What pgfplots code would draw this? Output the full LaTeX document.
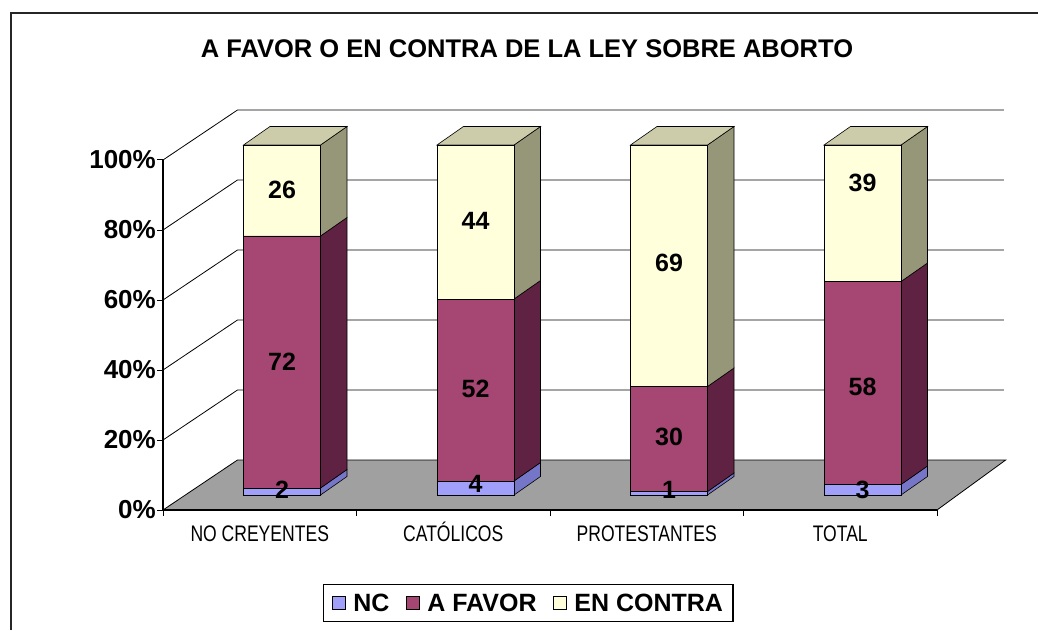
\documentclass[border=0pt]{standalone}
\usepackage{pgfplots}
\pgfplotsset{compat=1.18}
\usepackage{fontspec}
\setmainfont{Liberation Sans}
\newfontfamily\narrowfont[FakeStretch=0.78]{Liberation Sans}
\definecolor{ncF}{RGB}{160,160,250}
\definecolor{ncS}{RGB}{118,118,200}
\definecolor{afF}{RGB}{166,70,115}
\definecolor{afS}{RGB}{96,34,66}
\definecolor{ecF}{RGB}{255,255,220}
\definecolor{ecS}{RGB}{150,150,120}
\definecolor{ecT}{RGB}{204,204,170}
\definecolor{floorc}{RGB}{160,160,160}
\tikzset{vlab/.style={font=\bfseries\fontsize{25}{30}\selectfont}}
\pgfplotsset{base/.style={at={(163pt,120pt)}, anchor=south west, scale only axis,
  width=774pt, height=350pt, xmin=-0.615, xmax=3.385, ymin=-4.286, ymax=95.714, clip=false}}
\pgfplotstableread{
x nc af ec
0 2 72 26
1 4 52 44
2 1 30 69
3 3 58 39
}\datatab
\begin{document}
\begin{tikzpicture}
\path[use as bounding box] (0,0) rectangle (1038pt,630pt);
\draw[line width=2.5pt, black!85] (11pt,0pt) -- (11pt,617pt) -- (1038pt,617pt);
\node[font=\bfseries\fontsize{25.5}{30}\selectfont] at (527pt,581pt) {A FAVOR O EN CONTRA DE LA LEY SOBRE ABORTO};
% background: floor, gridlines, side and top faces
\begin{axis}[base, hide axis]
\addplot[fill=floorc, draw=black, line width=0.8pt] coordinates {(-0.615,-4.286) (-0.23,10) (3.74,10) (3.385,-4.286)} --cycle;
\addplot[black, line width=0.8pt] coordinates {(-0.615,15.714) (-0.23,30) (3.73,30)};
\addplot[black, line width=0.8pt] coordinates {(-0.615,35.714) (-0.23,50) (3.73,50)};
\addplot[black, line width=0.8pt] coordinates {(-0.615,55.714) (-0.23,70) (3.73,70)};
\addplot[black, line width=0.8pt] coordinates {(-0.615,75.714) (-0.23,90) (3.73,90)};
\addplot[black, line width=0.8pt] coordinates {(-0.615,95.714) (-0.23,110) (3.73,110)};
% bar 0
\addplot[fill=ncS, draw=black, line width=0.6pt] coordinates {(0.199,0) (0.336,5.29) (0.336,7.29) (0.199,2)} --cycle;
\addplot[fill=afS, draw=black, line width=0.6pt] coordinates {(0.199,2) (0.336,7.29) (0.336,79.29) (0.199,74)} --cycle;
\addplot[fill=ecS, draw=black, line width=0.6pt] coordinates {(0.199,74) (0.336,79.29) (0.336,105.29) (0.199,100)} --cycle;
\addplot[fill=ecT, draw=black, line width=0.6pt] coordinates {(-0.199,100) (0.199,100) (0.336,105.29) (-0.062,105.29)} --cycle;
% bar 1
\addplot[fill=ncS, draw=black, line width=0.6pt] coordinates {(1.199,0) (1.336,5.29) (1.336,9.29) (1.199,4)} --cycle;
\addplot[fill=afS, draw=black, line width=0.6pt] coordinates {(1.199,4) (1.336,9.29) (1.336,61.29) (1.199,56)} --cycle;
\addplot[fill=ecS, draw=black, line width=0.6pt] coordinates {(1.199,56) (1.336,61.29) (1.336,105.29) (1.199,100)} --cycle;
\addplot[fill=ecT, draw=black, line width=0.6pt] coordinates {(0.801,100) (1.199,100) (1.336,105.29) (0.938,105.29)} --cycle;
% bar 2
\addplot[fill=ncS, draw=black, line width=0.6pt] coordinates {(2.199,0) (2.336,5.29) (2.336,6.29) (2.199,1)} --cycle;
\addplot[fill=afS, draw=black, line width=0.6pt] coordinates {(2.199,1) (2.336,6.29) (2.336,36.29) (2.199,31)} --cycle;
\addplot[fill=ecS, draw=black, line width=0.6pt] coordinates {(2.199,31) (2.336,36.29) (2.336,105.29) (2.199,100)} --cycle;
\addplot[fill=ecT, draw=black, line width=0.6pt] coordinates {(1.801,100) (2.199,100) (2.336,105.29) (1.938,105.29)} --cycle;
% bar 3
\addplot[fill=ncS, draw=black, line width=0.6pt] coordinates {(3.199,0) (3.336,5.29) (3.336,8.29) (3.199,3)} --cycle;
\addplot[fill=afS, draw=black, line width=0.6pt] coordinates {(3.199,3) (3.336,8.29) (3.336,66.29) (3.199,61)} --cycle;
\addplot[fill=ecS, draw=black, line width=0.6pt] coordinates {(3.199,61) (3.336,66.29) (3.336,105.29) (3.199,100)} --cycle;
\addplot[fill=ecT, draw=black, line width=0.6pt] coordinates {(2.801,100) (3.199,100) (3.336,105.29) (2.938,105.29)} --cycle;
\end{axis}
% front faces, axes, legend
\begin{axis}[base, ybar stacked, bar width=0.398,
  axis x line=bottom, axis y line=left,
  axis line style={-, line width=1.2pt, black},
  tick style={black, line width=1pt}, tick align=outside, major tick length=6pt,
  ytick={-4.286,15.714,35.714,55.714,75.714,95.714},
  yticklabels={0\%,20\%,40\%,60\%,80\%,100\%},
  yticklabel style={font=\bfseries\fontsize{26}{30}\selectfont, inner sep=1pt},
  xtick={-0.615,0.385,1.385,2.385,3.385}, xticklabels={},
  extra x ticks={-0.115,0.885,1.885,2.885},
  extra x tick labels={NO CREYENTES,CATÓLICOS,PROTESTANTES,TOTAL},
  extra x tick style={major tick length=0pt, tick label style={font=\narrowfont\fontsize{22.5}{26}\selectfont, anchor=north, text height=17pt, text depth=2pt, yshift=-11pt}},
  legend style={at={(0.472,-0.266)}, anchor=center, draw=black, line width=1.2pt,
    font=\bfseries\fontsize{25}{28}\selectfont, legend columns=-1,
    inner xsep=8pt, inner ysep=7pt,
    /tikz/every odd column/.append style={column sep=6pt},
    /tikz/every even column/.append style={column sep=14pt}},
  legend image code/.code={\draw[#1,draw=black,line width=0.8pt] (0pt,-6pt) rectangle (13pt,7pt);},
]
\addplot[fill=ncF, draw=black, line width=0.6pt] table[x=x, y=nc] {\datatab};
\addplot[fill=afF, draw=black, line width=0.6pt] table[x=x, y=af] {\datatab};
\addplot[fill=ecF, draw=black, line width=0.6pt] table[x=x, y=ec] {\datatab};
\legend{NC, A FAVOR, EN CONTRA}
\end{axis}
% value labels on top
\begin{axis}[base, hide axis]
\node[vlab] at (axis cs:0,1.4) {2};
\node[vlab] at (axis cs:0,38) {72};
\node[vlab] at (axis cs:0,87.1) {26};
\node[vlab] at (axis cs:1,3.1) {4};
\node[vlab] at (axis cs:1,30.3) {52};
\node[vlab] at (axis cs:1,78.3) {44};
\node[vlab] at (axis cs:2,1.4) {1};
\node[vlab] at (axis cs:2,16.6) {30};
\node[vlab] at (axis cs:2,66.3) {69};
\node[vlab] at (axis cs:3,1.4) {3};
\node[vlab] at (axis cs:3,30.9) {58};
\node[vlab] at (axis cs:3,89.1) {39};
\end{axis}
\end{tikzpicture}
\end{document}
